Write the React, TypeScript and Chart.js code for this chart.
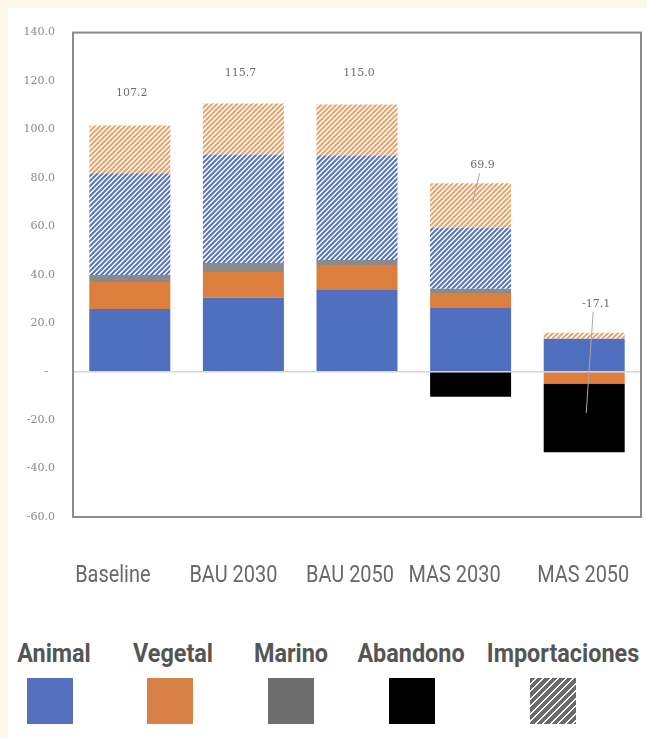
import React, { useEffect, useRef } from 'react';
import { Chart, registerables } from 'chart.js';

Chart.register(...registerables);

// ---- data ----
const categories = ['Baseline', 'BAU 2030', 'BAU 2050', 'MAS 2030', 'MAS 2050'];
const animal = [25.9, 30.5, 33.7, 26.3, 13.6];
const vegetal = [11.1, 10.7, 10.3, 6.2, -4.9];
const marino = [2.9, 3.7, 2.1, 1.7, null];
const abandono = [null, null, null, -10.3, -28.4];
const impAnimal = [42.0, 44.8, 43.2, 25.1, null];
const impVegetal = [19.7, 21.0, 21.0, 18.5, 2.5];
const totals = [107.2, 115.7, 115.0, 69.9, -17.1];
const totalLabels = ['107.2', '115.7', '115.0', '69.9', '-17.1'];
const leaderLine = [false, false, false, true, true];
const yMin = -60;
const yMax = 140;
const yStep = 20;

const legendNames = ['Animal', 'Vegetal', 'Marino', 'Abandono', 'Importaciones'];

// ---- style ----
const BLUE = '#5070bf';
const ORANGE = '#dc7e3d';
const GRAY = '#8a8a8a';
const BLACK = '#000000';
const CREAM = '#fef8e9';

const labelLift = [32, 30, 31, 18, 29];
const labelShift = [2, -3, 2, 12, 12];
const catNudge = [-17, -10, -7, -16, -1];

const legendColors = ['#5470be', '#d88146', '#6e6e6e', '#000000', 'hatch'];
const legendLabelCenter = [46, 164.5, 282.5, 403, 554.5];
const legendSquareLeft = [19, 139, 260, 381, 522];

function makeHatch(ctx: CanvasRenderingContext2D, color: string) {
  const s = 5;
  const c = document.createElement('canvas');
  c.width = s;
  c.height = s;
  const g = c.getContext('2d')!;
  g.fillStyle = '#ffffff';
  g.fillRect(0, 0, s, s);
  g.strokeStyle = color;
  g.lineWidth = 2;
  g.beginPath();
  g.moveTo(-1, s + 1);
  g.lineTo(s + 1, -1);
  g.moveTo(-1, 1);
  g.lineTo(1, -1);
  g.moveTo(s - 1, s + 1);
  g.lineTo(s + 1, s - 1);
  g.stroke();
  return ctx.createPattern(c, 'repeat') as CanvasPattern;
}

const framePlugin = {
  id: 'frame',
  afterDatasetsDraw(chart: any) {
    const { ctx, chartArea: a, scales } = chart;
    ctx.save();
    ctx.strokeStyle = '#8c8c8c';
    ctx.lineWidth = 2;
    ctx.strokeRect(a.left, a.top, a.right - a.left, a.bottom - a.top);

    // total labels
    ctx.font = '11px "DejaVu Serif"';
    ctx.fillStyle = '#6e6e6e';
    ctx.textAlign = 'center';
    ctx.textBaseline = 'middle';
    const pos = [animal, vegetal, marino, impAnimal, impVegetal];
    for (let i = 0; i < categories.length; i++) {
      let top = 0;
      pos.forEach((arr) => {
        const v = arr[i];
        if (v != null && v > 0) top += v;
      });
      const barX = scales.x.getPixelForValue(i);
      const topPx = scales.y.getPixelForValue(top);
      const lx = barX + labelShift[i];
      const ly = topPx - labelLift[i];
      ctx.fillText(totalLabels[i], lx, ly);
      if (leaderLine[i]) {
        ctx.strokeStyle = '#a8a8a8';
        ctx.lineWidth = 1;
        ctx.beginPath();
        ctx.moveTo(lx - 3, ly + 8);
        ctx.lineTo(barX + 2, scales.y.getPixelForValue(totals[i]));
        ctx.stroke();
      }
    }

    // category labels (condensed)
    ctx.font = '24px Roboto';
    ctx.fillStyle = '#696969';
    ctx.textAlign = 'center';
    ctx.textBaseline = 'alphabetic';
    categories.forEach((c, i) => {
      const x = scales.x.getPixelForValue(i) + catNudge[i];
      const y = a.bottom + 65;
      ctx.save();
      ctx.translate(x, y);
      ctx.scale(0.83, 1);
      ctx.fillText(c, 0, 0);
      ctx.restore();
    });
    ctx.restore();
  },
};

export default function App() {
  const ref = useRef<HTMLCanvasElement>(null);

  useEffect(() => {
    document.documentElement.style.background = CREAM;
    document.body.style.background = CREAM;
    document.body.style.margin = '8px 0 0 8px';
    const canvas = ref.current!;
    const ctx = canvas.getContext('2d')!;
    const hatchBlue = makeHatch(ctx, '#5674c2');
    const hatchOrange = makeHatch(ctx, '#eaa46a');

    const common = { categoryPercentage: 0.713, barPercentage: 1, borderWidth: 0 };
    const chart = new Chart(ctx, {
      type: 'bar',
      data: {
        labels: categories,
        datasets: [
          { label: 'Animal', data: animal, backgroundColor: BLUE, ...common },
          { label: 'Vegetal', data: vegetal, backgroundColor: ORANGE, ...common },
          { label: 'Marino', data: marino, backgroundColor: GRAY, ...common },
          { label: 'Abandono', data: abandono, backgroundColor: BLACK, ...common },
          { label: 'Importaciones animal', data: impAnimal, backgroundColor: hatchBlue, ...common },
          { label: 'Importaciones vegetal', data: impVegetal, backgroundColor: hatchOrange, ...common },
        ] as any,
      },
      options: {
        responsive: false,
        animation: false,
        layout: { padding: { top: 23, right: 6, left: 0, bottom: 0 } },
        plugins: { legend: { display: false }, tooltip: { enabled: false } },
        scales: {
          x: {
            stacked: true,
            grid: { display: false },
            border: { display: false },
            ticks: { display: false },
            afterFit: (s: any) => {
              s.height = 91;
            },
          },
          y: {
            stacked: true,
            min: yMin,
            max: yMax,
            border: { display: false },
            grid: {
              drawTicks: false,
              color: (c: any) => (c.tick && c.tick.value === 0 ? '#d6d6d6' : 'rgba(0,0,0,0)'),
              lineWidth: 1.5,
            },
            ticks: {
              stepSize: yStep,
              padding: 18,
              color: '#8a8a8a',
              font: { family: '"DejaVu Serif"', size: 11 },
              callback: (v: any) => (Number(v) === 0 ? '-  ' : Number(v).toFixed(1)),
            },
            afterFit: (s: any) => {
              s.width = 65;
            },
          },
        },
      },
      plugins: [framePlugin],
    });
    return () => chart.destroy();
  }, []);

  return (
    <div style={{ position: 'relative', width: 639, height: 730, background: '#ffffff', overflow: 'hidden' }}>
      <canvas ref={ref} width={639} height={600} style={{ display: 'block', width: 639, height: 600 }} />
      {legendNames.map((name, i) => (
        <React.Fragment key={name}>
          <div
            style={{
              position: 'absolute',
              left: legendLabelCenter[i] - 100,
              width: 200,
              top: 632,
              textAlign: 'center',
              fontFamily: 'Roboto, sans-serif',
              fontWeight: 'bold',
              fontSize: 26,
              lineHeight: '26px',
              color: '#555555',
              whiteSpace: 'nowrap',
              transform: 'scaleX(0.9)',
              transformOrigin: 'center',
            }}
          >
            {name}
          </div>
          <div
            style={{
              position: 'absolute',
              left: legendSquareLeft[i],
              top: 670,
              width: 46,
              height: 46,
              background:
                legendColors[i] === 'hatch'
                  ? 'repeating-linear-gradient(135deg, #6b6b6b 0px, #6b6b6b 3.6px, #ffffff 3.6px, #ffffff 5.3px)'
                  : legendColors[i],
            }}
          />
        </React.Fragment>
      ))}
    </div>
  );
}
